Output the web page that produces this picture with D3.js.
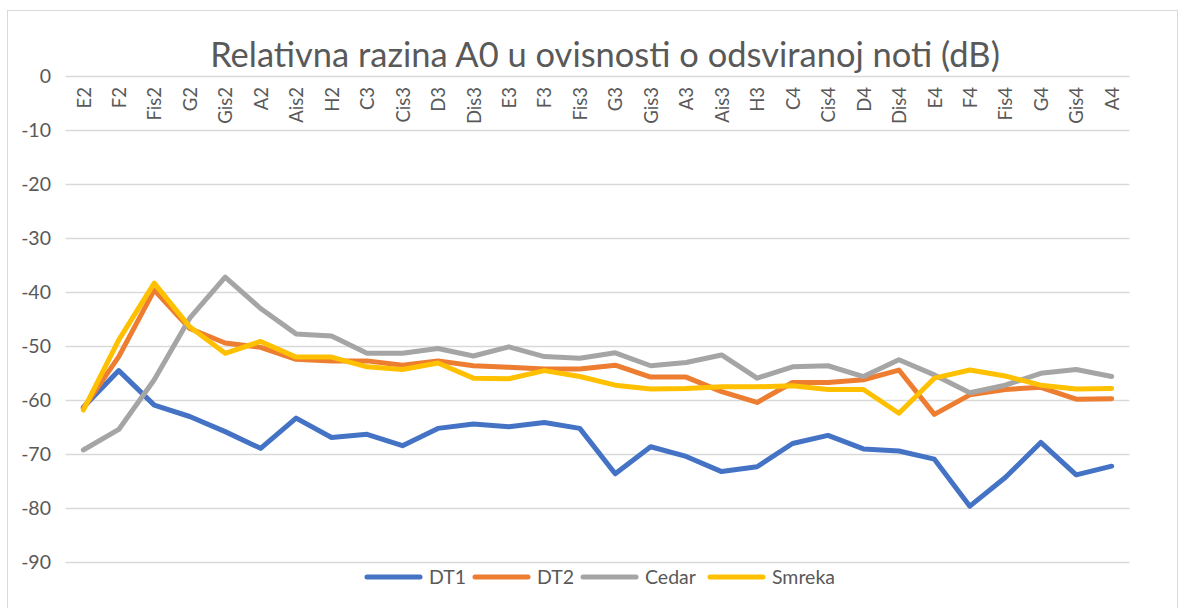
<!DOCTYPE html>
<html>
<head>
<meta charset="utf-8">
<script src="https://cdn.jsdelivr.net/npm/d3@7"></script>
<style>
  html, body { margin: 0; padding: 0; background: #fff; }
  svg { display: block; }
  text { font-family: Lato, "Open Sans", "Noto Sans", sans-serif; fill: #595959; }
</style>
</head>
<body>
<svg id="chart" width="1189" height="608"></svg>
<script>
// Notes played (x categories)
const notes = ["E2","F2","Fis2","G2","Gis2","A2","Ais2","H2","C3","Cis3","D3","Dis3","E3","F3","Fis3",
               "G3","Gis3","A3","Ais3","H3","C4","Cis4","D4","Dis4","E4","F4","Fis4","G4","Gis4","A4"];

// Relative A0 level (dB) per guitar
const dt1    = [-61.3,-54.5,-60.9,-63.0,-65.8,-68.9,-63.3,-66.9,-66.3,-68.4,-65.2,-64.4,-64.9,-64.1,-65.2,
                -73.6,-68.6,-70.4,-73.2,-72.3,-68.0,-66.5,-69.0,-69.4,-70.9,-79.6,-74.3,-67.8,-73.8,-72.2];
const dt2    = [-61.5,-51.9,-39.6,-46.7,-49.4,-50.2,-52.4,-52.7,-52.7,-53.5,-52.7,-53.6,-53.9,-54.2,-54.2,
                -53.5,-55.7,-55.7,-58.4,-60.4,-56.7,-56.7,-56.2,-54.4,-62.6,-59.0,-58.0,-57.6,-59.8,-59.7];
const cedar  = [-69.2,-65.4,-56.2,-44.8,-37.2,-43.0,-47.7,-48.1,-51.3,-51.3,-50.4,-51.8,-50.1,-51.9,-52.2,
                -51.2,-53.6,-53.0,-51.6,-55.9,-53.8,-53.6,-55.6,-52.5,-55.3,-58.6,-57.2,-55.0,-54.3,-55.6];
const smreka = [-61.8,-48.8,-38.3,-46.4,-51.3,-49.1,-52.0,-52.0,-53.8,-54.3,-53.1,-55.9,-56.0,-54.5,-55.6,
                -57.2,-57.9,-57.8,-57.5,-57.5,-57.3,-58.0,-58.0,-62.4,-55.9,-54.4,-55.5,-57.2,-57.9,-57.8];

const yTicks = [0,-10,-20,-30,-40,-50,-60,-70,-80,-90];

const seriesNames  = ["DT1","DT2","Cedar","Smreka"];
const seriesValues = [dt1, dt2, cedar, smreka];
const seriesColors = ["#4472C4","#ED7D31","#A5A5A5","#FFC000"];

const svg = d3.select("#chart");

// Chart frame
svg.append("rect")
  .attr("x", 7.5).attr("y", 10.5).attr("width", 1170).attr("height", 620)
  .attr("fill", "#fff").attr("stroke", "#D9D9D9").attr("stroke-width", 1);

const plot = { left: 65.6, right: 1129.4, top: 76.3, bottom: 562.3 };

const x = d3.scalePoint().domain(notes).range([plot.left, plot.right]).padding(0.5);
const y = d3.scaleLinear().domain([-90, 0]).range([plot.bottom, plot.top]);

// Horizontal gridlines
svg.append("g").selectAll("line").data(yTicks).join("line")
  .attr("x1", plot.left).attr("x2", plot.right)
  .attr("y1", d => Math.round(y(d)) + 0.5).attr("y2", d => Math.round(y(d)) + 0.5)
  .attr("stroke", "#D9D9D9").attr("stroke-width", 1.3);

// Y axis labels
const yAxis = d3.axisLeft(y).tickValues(yTicks).tickSize(0).tickPadding(0)
  .tickFormat(d => d === 0 ? "0" : "-" + Math.abs(d));
const yg = svg.append("g").attr("transform", "translate(51,0)").call(yAxis);
yg.select(".domain").remove();
yg.selectAll("text").attr("font-size", 19.5).attr("fill", "#595959")
  .style("font-family", "Lato, 'Open Sans', sans-serif");

// Category labels, rotated, hanging under the 0 line
const xAxis = d3.axisTop(x).tickSize(0).tickPadding(0);
const xg = svg.append("g").attr("transform", "translate(0,0)").call(xAxis);
xg.select(".domain").remove();
xg.selectAll(".tick text")
  .attr("transform", "rotate(-90)")
  .attr("text-anchor", "end")
  .attr("x", -87).attr("y", 0).attr("dy", "0.36em")
  .attr("font-size", 18.5).attr("fill", "#595959")
  .style("font-family", "Lato, 'Open Sans', sans-serif");

// Series lines
const line = d3.line().x((d, i) => x(notes[i])).y(d => y(d));
svg.append("g").selectAll("path").data(seriesValues).join("path")
  .attr("d", d => line(d))
  .attr("fill", "none")
  .attr("stroke", (d, i) => seriesColors[i])
  .attr("stroke-width", 5)
  .attr("stroke-linejoin", "round")
  .attr("stroke-linecap", "round");

// Title, sized to its intended width
const title = svg.append("text")
  .attr("x", 605).attr("y", 67)
  .attr("text-anchor", "middle")
  .attr("font-size", 28)
  .attr("fill", "#595959")
  .text("Relativna razina A0 u ovisnosti o odsviranoj noti (dB)");
const tw = title.node().getComputedTextLength();
title.attr("font-size", 28 * 790 / tw);

// Legend
const legend = svg.append("g");
const legendX = [365, 473, 581, 708];
seriesNames.forEach((name, i) => {
  const g = legend.append("g").attr("transform", `translate(${legendX[i]},577)`);
  g.append("line").attr("x1", 2).attr("x2", 55).attr("y1", 0).attr("y2", 0)
    .attr("stroke", seriesColors[i]).attr("stroke-width", 5).attr("stroke-linecap", "round");
  g.append("text").attr("x", 64).attr("y", 0).attr("dy", "0.36em")
    .attr("font-size", 19.5).attr("fill", "#595959").text(name);
});
</script>
</body>
</html>
